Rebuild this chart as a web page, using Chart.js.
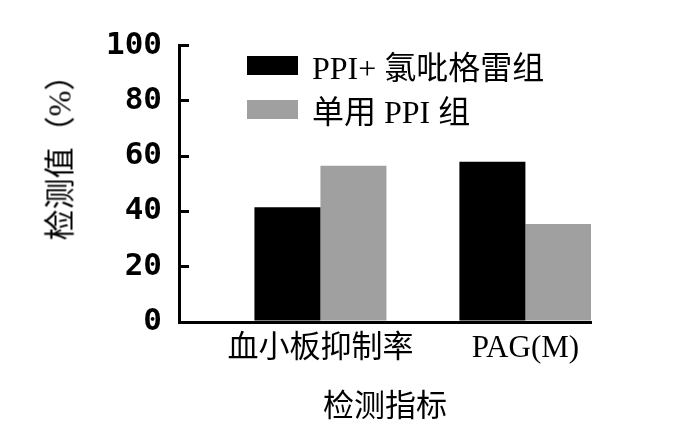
<!DOCTYPE html>
<html>
<head>
<meta charset="utf-8">
<script src="https://cdn.jsdelivr.net/npm/chart.js@4"></script>
<style>
    body { margin: 0; background: #fff; }
    #wrap { position: relative; width: 694px; height: 434px; }
    #legend { position: absolute; left: 247px; top: 43px; font: 32px "Liberation Serif", "Noto Sans CJK SC", serif; color: #000; }
    .legend-row { display: flex; align-items: center; height: 44px; white-space: nowrap; }
    .legend-box { width: 51px; height: 19px; margin-right: 14px; }
    #y-title { position: absolute; left: 57px; top: 150px; transform: translate(-50%, -50%) rotate(-90deg);
        font: 31px "Liberation Serif", "Noto Sans CJK SC", serif; white-space: nowrap; color: #000; }
</style>
</head>
<body>
<div id="wrap">
    <canvas id="chart" width="694" height="434"></canvas>
    <div id="legend"></div>
    <div id="y-title">检测值（%）</div>
</div>
<script>
// data
const categories = ['血小板抑制率', 'PAG(M)'];
const comboValues = [41.5, 58];
const ppiOnlyValues = [56.5, 35.5];
const seriesNames = ['PPI+ 氯吡格雷组', '单用 PPI 组'];
const seriesColors = ['#000000', '#a0a0a0'];
const yTicks = [0, 20, 40, 60, 80, 100];

// x positions of the categories on a linear axis (axis starts left of the first group)
const xPositions = categories.map((c, i) => i + 1);
const xMin = 0.31;
const xMax = 2.32;

const toPoints = values => values.map((v, i) => ({ x: xPositions[i], y: v }));

Chart.defaults.font.family = '"Liberation Serif", "Noto Sans CJK SC", serif';
Chart.defaults.color = '#000';

const chart = new Chart(document.getElementById('chart'), {
    type: 'bar',
    data: {
        datasets: [
            { label: seriesNames[0], data: toPoints(comboValues), backgroundColor: seriesColors[0] },
            { label: seriesNames[1], data: toPoints(ppiOnlyValues), backgroundColor: seriesColors[1] }
        ]
    },
    options: {
        responsive: false,
        animation: false,
        layout: { padding: { top: 43, right: 103, bottom: 0, left: 0 } },
        datasets: { bar: { categoryPercentage: 0.644, barPercentage: 1.0 } },
        plugins: { legend: { display: false }, tooltip: { enabled: false } },
        scales: {
            x: {
                type: 'linear',
                offset: false,
                min: xMin,
                max: xMax,
                afterBuildTicks: scale => { scale.ticks = xPositions.map(v => ({ value: v })); },
                afterFit: scale => { scale.height = 112; },
                grid: { display: false, drawTicks: false },
                border: { display: true, color: '#000', width: 3 },
                ticks: {
                    padding: 8,
                    font: { size: 31 },
                    callback: (value, index) => categories[index]
                },
                title: { display: true, text: '检测指标', font: { size: 31 }, padding: { top: 0, bottom: 8 } }
            },
            y: {
                min: 0,
                max: 100,
                afterBuildTicks: scale => { scale.ticks = yTicks.map(v => ({ value: v })); },
                afterFit: scale => { scale.width = 179; },
                grid: { display: true, drawOnChartArea: false, drawTicks: true, tickLength: -10, color: '#000', lineWidth: 3 },
                border: { display: true, color: '#000', width: 3 },
                ticks: {
                    padding: 27,
                    font: { family: '"DejaVu Sans Mono"', weight: 'bold', size: 31 }
                }
            }
        }
    }
});

// html legend built from the datasets
const legend = document.getElementById('legend');
chart.data.datasets.forEach(ds => {
    const row = document.createElement('div');
    row.className = 'legend-row';
    row.innerHTML = `<span class="legend-box" style="background:${ds.backgroundColor}"></span><span>${ds.label}</span>`;
    legend.appendChild(row);
});
</script>
</body>
</html>
